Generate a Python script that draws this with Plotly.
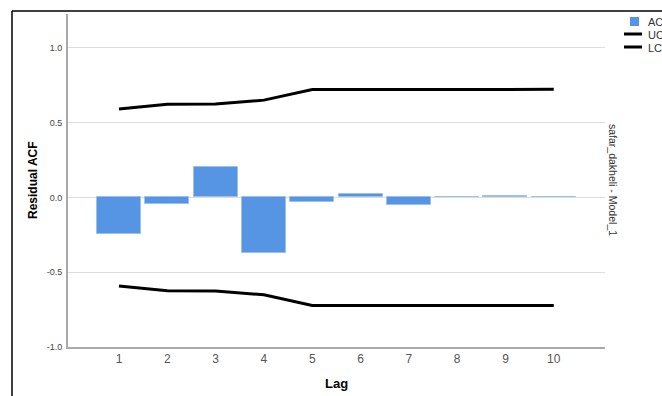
import plotly.graph_objects as go

lags = [1, 2, 3, 4, 5, 6, 7, 8, 9, 10]
acf = [-0.244, -0.044, 0.206, -0.373, -0.030, 0.020, -0.050, 0.006, 0.010, 0.006]
ucl = [0.592, 0.624, 0.625, 0.651, 0.722, 0.722, 0.722, 0.723, 0.723, 0.723]
lcl = [-0.592, -0.624, -0.625, -0.651, -0.722, -0.722, -0.722, -0.723, -0.723, -0.723]
y_ticks = [-1.0, -0.5, 0.0, 0.5, 1.0]
y_tick_labels = ["-1.0", "-0.5", "0.0", "0.5", "1.0"]

W, H = 662, 396
L, R, T, B = 68, 57, 14, 49
pw, ph = W - L - R, H - T - B

def px(x):
    return (x - L) / pw

def py(y):
    return (H - B - y) / ph

FONT = "Liberation Sans, Arial, sans-serif"
BAR = "#5595e4"

fig = go.Figure()
fig.add_trace(go.Bar(x=lags, y=acf, width=0.91, marker=dict(color=BAR, line=dict(color="#9cc0ee", width=1)),
                     name="ACF", showlegend=False))
fig.add_trace(go.Scatter(x=lags, y=ucl, mode="lines", line=dict(color="black", width=3), name="UCL", showlegend=False))
fig.add_trace(go.Scatter(x=lags, y=lcl, mode="lines", line=dict(color="black", width=3), name="LCL", showlegend=False))

fig.update_layout(
    width=W, height=H,
    margin=dict(l=L, r=R, t=T, b=B),
    paper_bgcolor="white", plot_bgcolor="white",
    font=dict(family=FONT),
    xaxis=dict(range=[-0.055, 11.06], tickvals=lags, ticks="", showgrid=False, zeroline=False,
               showline=True, linecolor="#aaaaaa", linewidth=2,
               tickfont=dict(size=12, color="#555555")),
    yaxis=dict(range=[-1.0, 1.227], tickvals=y_ticks, ticktext=y_tick_labels, ticks="",
               showgrid=True, gridcolor="#dddddd", gridwidth=1, zeroline=True, zerolinecolor="#dddddd",
               zerolinewidth=1, showline=True, linecolor="#aaaaaa", linewidth=2,
               tickfont=dict(size=9, color="#444444"), ticklabelstandoff=2),
    bargap=0,
)

ann = [
    dict(text="<b>Residual ACF</b>", x=px(33), y=py(180), textangle=-90, font=dict(size=12, color="black")),
    dict(text="<b>Lag</b>", x=px(336), y=py(383), font=dict(size=13, color="black")),
    dict(text="safar_dakheli - Model_1", x=px(613), y=py(180), textangle=90, font=dict(size=10.5, color="#333333")),
    dict(text="ACF", x=px(646), y=py(22), xanchor="left", font=dict(size=11, color="#333333")),
    dict(text="UCL", x=px(646), y=py(35), xanchor="left", font=dict(size=11, color="#333333")),
    dict(text="LCL", x=px(646), y=py(48), xanchor="left", font=dict(size=11, color="#333333")),
]
for a in ann:
    a.setdefault("xanchor", "center")
    fig.add_annotation(xref="paper", yref="paper", showarrow=False, yanchor="middle", **a)

shapes = [
    dict(type="rect", x0=px(630), x1=px(639), y0=py(17), y1=py(26), fillcolor=BAR, line=dict(width=0)),
    dict(type="line", x0=px(624), x1=px(642), y0=py(34), y1=py(34), line=dict(color="black", width=3)),
    dict(type="line", x0=px(624), x1=px(642), y0=py(47), y1=py(47), line=dict(color="black", width=3)),
    dict(type="line", x0=px(12), x1=px(662), y0=py(11), y1=py(11), line=dict(color="black", width=1.5)),
    dict(type="line", x0=px(12), x1=px(12), y0=py(11), y1=py(396), line=dict(color="black", width=1.5)),
]
for s in shapes:
    fig.add_shape(xref="paper", yref="paper", layer="above", **s)

fig.write_html("out.html")
